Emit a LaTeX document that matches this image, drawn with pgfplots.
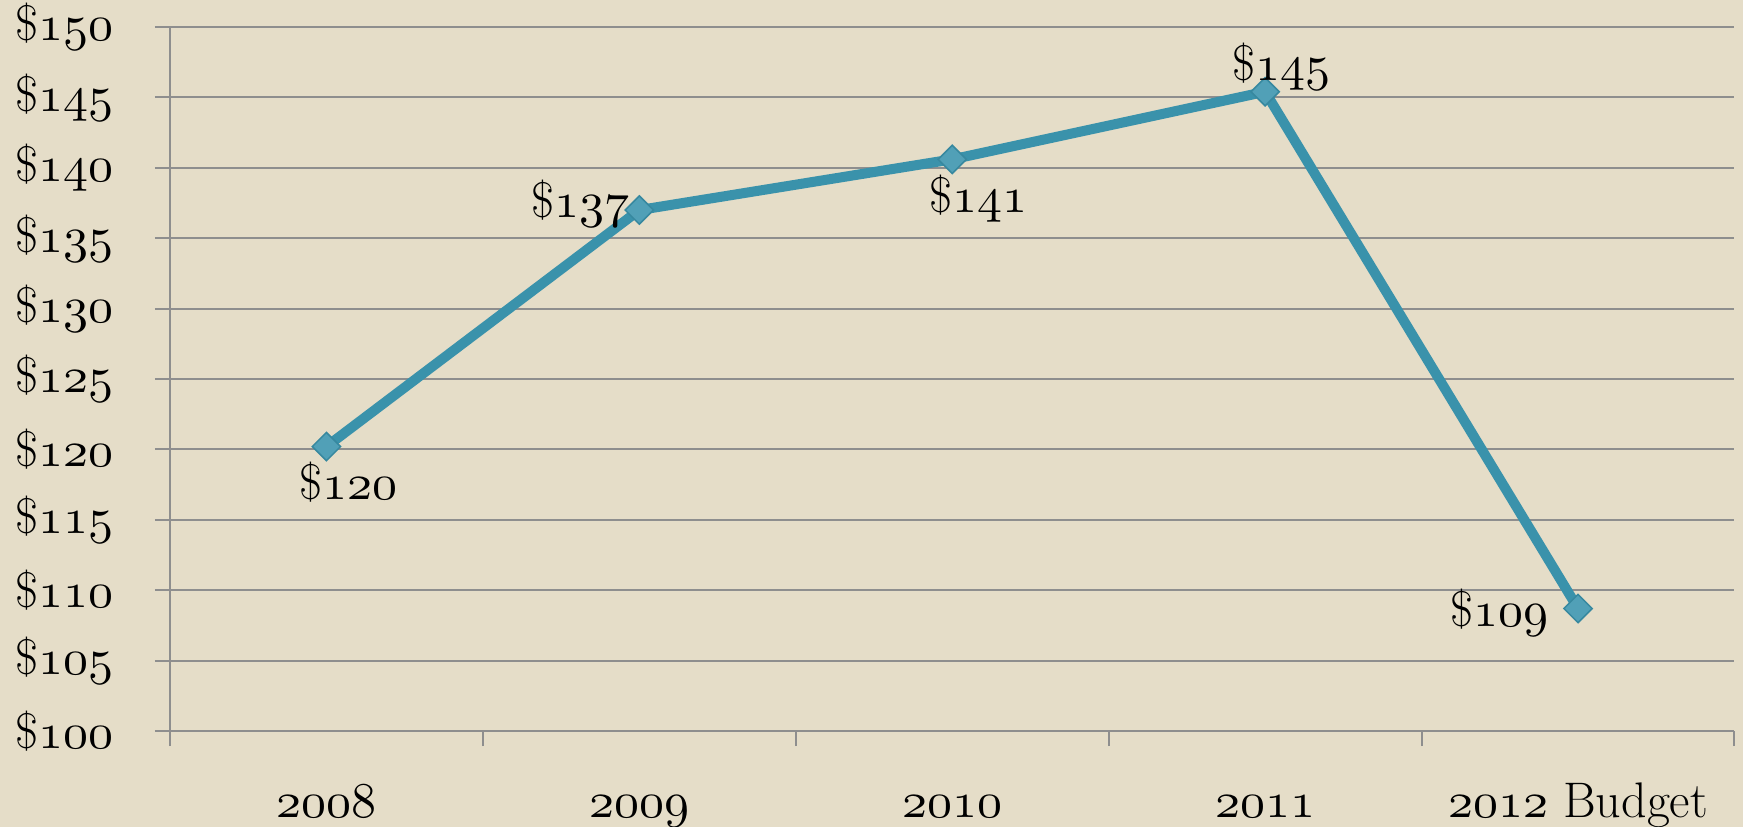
\documentclass[border=0pt]{standalone}
\usepackage{pgfplots}
\pgfplotsset{compat=1.18}
\DeclareFontShape{OML}{cmm}{m}{it}{<->cmmi10}{}
\DeclareFontShape{OMS}{cmsy}{m}{n}{<->cmsy10}{}
\DeclareFontShape{OT1}{cmr}{m}{n}{<->cmr10}{}
\DeclareFontShape{OMX}{cmex}{m}{n}{<->cmex10}{}
\definecolor{bg}{HTML}{E5DDC8}
\definecolor{gridc}{HTML}{8E8E8E}
\definecolor{linec}{HTML}{3A92AB}
\definecolor{mkfill}{HTML}{51A0B7}
\definecolor{mkdraw}{HTML}{37889F}
\newcommand\osn[1]{\ensuremath{\mathnormal{#1}}}
\newcommand\bigfont{\fontsize{50}{56}\selectfont}
\pgfplotsset{lbl/.style={draw=none, mark=none, point meta=explicit symbolic,
  nodes near coords={\$\osn{\pgfplotspointmeta}},
  nodes near coords style={font=\bigfont, text=black, #1}}}
\begin{document}
\begin{tikzpicture}
\fill[bg] (-170pt,-96pt) rectangle (1573pt,731pt);
\begin{axis}[
  at={(0,0)}, anchor=south west,
  scale only axis, width=1564.5pt, height=704pt,
  xmin=-0.5, xmax=4.5, ymin=100, ymax=150,
  xtick={0,...,4},
  xticklabels={\osn{2008},\osn{2009},\osn{2010},\osn{2011},\osn{2012} Budget},
  minor xtick={-0.5,0.5,...,4.5},
  ytick={100,105,...,150},
  yticklabel={\$\osn{\pgfmathprintnumber{\tick}}},
  tick align=outside,
  major tick length=15pt, minor tick length=15pt,
  major x tick style={draw=none},
  tick style={gridc, line width=2pt},
  ymajorgrids, grid style={gridc, line width=2pt},
  axis x line*=bottom, axis y line*=left,
  axis line style={gridc, line width=2pt, -},
  every tick label/.append style={font=\bigfont, text=black},
  xticklabel style={anchor=base, yshift=-71pt},
  yticklabel style={xshift=-38pt},
  clip=false,
]
\addplot[linec, line width=10pt, mark=square*, mark size=10pt,
  mark options={rotate=45, fill=mkfill, draw=mkdraw, line width=1.5pt}]
  coordinates {(0,120.2) (1,137.0) (2,140.6) (3,145.4) (4,108.7)};
\addplot[lbl={anchor=north, xshift=22pt, yshift=-12pt}] coordinates {(0,120.2) [120]};
\addplot[lbl={anchor=east, xshift=-6pt, yshift=6pt}] coordinates {(1,137.0) [137]};
\addplot[lbl={anchor=north, xshift=26pt, yshift=-12pt}] coordinates {(2,140.6) [141]};
\addplot[lbl={anchor=south, xshift=16pt, yshift=-2pt}] coordinates {(3,145.4) [145]};
\addplot[lbl={anchor=east, xshift=-26pt, yshift=-4pt}] coordinates {(4,108.7) [109]};
\end{axis}
\pgfresetboundingbox
\path[use as bounding box] (-170pt,-96pt) rectangle (1573pt,731pt);
\end{tikzpicture}
\end{document}
